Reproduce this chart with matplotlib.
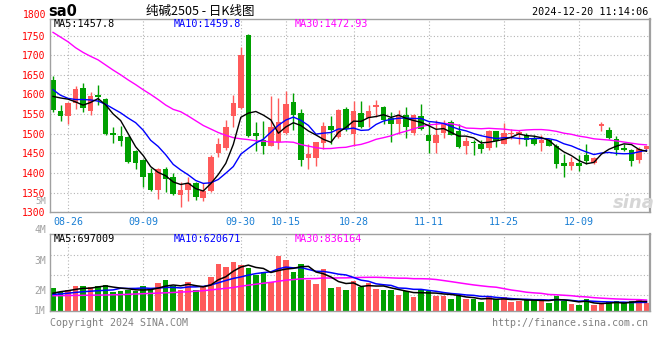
import numpy as np
import pandas as pd
import matplotlib
matplotlib.use("Agg")
import matplotlib.pyplot as plt

plt.rcParams['font.family'] = ['DejaVu Sans Mono']

# daily candles, SA2505, 2024-08-22 .. 2024-12-20
opens = [1638, 1558, 1545, 1578, 1616, 1558, 1599, 1589, 1501, 1495,
         1492, 1457, 1433, 1399, 1357, 1411, 1389, 1343, 1357, 1374,
         1337, 1354, 1451, 1464, 1545, 1565, 1752, 1503, 1484, 1470,
         1478, 1502, 1581, 1553, 1439, 1438, 1476, 1519, 1492, 1562,
         1499, 1553, 1541, 1567, 1568, 1541, 1524, 1547, 1502, 1544,
         1498, 1476, 1502, 1530, 1507, 1468, 1479, 1475, 1464, 1507,
         1475, 1499, 1499, 1498, 1490, 1476, 1483, 1468, 1425, 1417,
         1426, 1447, 1425, 1519, 1510, 1487, 1464, 1458, 1434, 1461]
highs = [1647, 1573, 1580, 1621, 1629, 1607, 1623, 1592, 1516, 1520,
         1494, 1459, 1435, 1412, 1413, 1415, 1401, 1377, 1391, 1376,
         1374, 1447, 1489, 1534, 1598, 1722, 1755, 1530, 1532, 1596,
         1592, 1610, 1604, 1564, 1475, 1480, 1530, 1545, 1564, 1568,
         1584, 1584, 1573, 1587, 1570, 1556, 1560, 1568, 1550, 1575,
         1530, 1536, 1536, 1536, 1524, 1492, 1483, 1483, 1510, 1508,
         1528, 1513, 1510, 1502, 1498, 1496, 1487, 1475, 1449, 1441,
         1447, 1473, 1440, 1530, 1516, 1493, 1473, 1460, 1465, 1470]
lows = [1555, 1533, 1524, 1562, 1555, 1548, 1572, 1497, 1476, 1470,
        1425, 1411, 1365, 1353, 1335, 1351, 1344, 1313, 1330, 1332,
        1328, 1352, 1442, 1458, 1517, 1562, 1492, 1455, 1449, 1468,
        1462, 1500, 1509, 1419, 1411, 1417, 1462, 1475, 1490, 1507,
        1470, 1514, 1517, 1543, 1526, 1479, 1499, 1490, 1498, 1509,
        1451, 1451, 1490, 1496, 1464, 1449, 1445, 1451, 1459, 1466,
        1473, 1487, 1475, 1470, 1472, 1456, 1468, 1413, 1391, 1408,
        1405, 1422, 1424, 1507, 1487, 1445, 1456, 1419, 1425, 1458]
closes = [1561, 1544, 1579, 1614, 1566, 1595, 1593, 1500, 1498, 1482,
          1428, 1426, 1389, 1356, 1409, 1385, 1347, 1357, 1374, 1338,
          1355, 1441, 1473, 1516, 1579, 1700, 1494, 1494, 1470, 1518,
          1530, 1575, 1547, 1434, 1449, 1479, 1519, 1510, 1560, 1513,
          1558, 1516, 1558, 1574, 1536, 1524, 1545, 1516, 1547, 1513,
          1482, 1498, 1526, 1498, 1466, 1481, 1476, 1462, 1507, 1482,
          1502, 1502, 1505, 1485, 1475, 1483, 1470, 1422, 1419, 1428,
          1419, 1430, 1439, 1524, 1490, 1459, 1459, 1430, 1461, 1468]
volumes = [1702000, 1384000, 1502000, 1850000, 1828000, 1776000, 1828000, 1902000, 1406000, 1458000,
           1532000, 1428000, 1828000, 1532000, 2050000, 2272000, 1828000, 1517000, 2124000, 1532000,
           1850000, 2472000, 3456000, 3241000, 3604000, 3367000, 3197000, 2605000, 2864000, 2109000,
           4070000, 3759000, 2871000, 3456000, 2257000, 1983000, 3093000, 1687000, 1761000, 1532000,
           2205000, 1761000, 2035000, 1591000, 1554000, 1502000, 1169000, 1443000, 1036000, 1502000,
           1421000, 1110000, 1110000, 873000, 1110000, 873000, 873000, 629000, 1021000, 836000,
           999000, 651000, 681000, 792000, 792000, 873000, 592000, 1051000, 703000, 481000,
           429000, 873000, 385000, 481000, 629000, 681000, 629000, 725000, 792000, 555000]

# moving averages before enough history is visible
ma5_head = [1595, 1591, 1588, 1581]
ma10_head = [1612, 1598, 1590, 1587, 1587, 1586, 1583, 1575, 1564]
ma30_head = [1758, 1746, 1734, 1719, 1707, 1697, 1688, 1675, 1662, 1650,
             1637, 1625, 1612, 1600, 1587, 1573, 1562, 1556, 1545, 1533,
             1521, 1512, 1503, 1496, 1490, 1487, 1485, 1482, 1481]
vma5_head = [1295000, 1406000, 1480000, 1576000]
vma10_head = [1206000, 1243000, 1295000, 1354000, 1406000, 1443000, 1480000, 1510000, 1539000]
vma30_head = [1110000, 1117000, 1125000, 1132000, 1140000, 1147000, 1154000, 1162000, 1177000, 1191000,
              1214000, 1236000, 1258000, 1280000, 1302000, 1325000, 1347000, 1376000, 1406000, 1443000,
              1480000, 1539000, 1598000, 1658000, 1717000, 1813000, 1887000, 1961000, 2035000]

tick_idx = [2, 12, 25, 31, 40, 50, 60, 70]
tick_labels = ['08-26', '09-09', '09-30', '10-15', '10-28', '11-11', '11-25', '12-09']


def moving(values, n, head):
    s = pd.Series(values, dtype=float).rolling(n).mean()
    s.iloc[:n - 1] = head
    return s.values


o = np.array(opens, float)
h = np.array(highs, float)
l = np.array(lows, float)
c = np.array(closes, float)
v = np.array(volumes, float)
x = np.arange(len(c))

up, down = '#ff5a5a', '#00a000'
cols = np.where(c >= o, up, down)
grid_c = '#b4b4b4'
frame_c = '#a0a0a0'

W, H = 660, 360
fig = plt.figure(figsize=(6.6, 3.6), dpi=100)


def rect(left, top, right, bottom):
    return [left / W, 1 - bottom / H, (right - left) / W, (bottom - top) / H]


def fpos(px, py):
    return px / W, 1 - py / H


ax = fig.add_axes(rect(50, 19, 649.5, 212.3))
axv = fig.add_axes(rect(50, 234.3, 649.5, 310.7))

# price panel
ax.vlines(x, l, h, colors=cols, lw=1, zorder=2)
ax.bar(x, np.maximum(np.abs(c - o), 1.5), bottom=np.minimum(o, c),
       width=0.74, color=cols, lw=0, zorder=2)
ax.plot(x, moving(closes, 30, ma30_head), color='#ff00ff', lw=1, zorder=3)
ax.plot(x, moving(closes, 10, ma10_head), color='#0000ff', lw=1, zorder=3)
ax.plot(x, moving(closes, 5, ma5_head), color='black', lw=1, zorder=3)

ax.set_xlim(-0.4, 79.4)
ax.set_ylim(1300, 1792)
ax.set_yticks(range(1300, 1751, 50))
ax.set_yticklabels([str(t) for t in range(1300, 1751, 50)], color='red', fontsize=7)
ax.set_xticks(tick_idx)
ax.set_xticklabels(tick_labels, color='#1a7fd4', fontsize=7.2)
ax.tick_params(length=0, axis='y', pad=3)
ax.tick_params(length=0, axis='x', pad=3.2)
ax.grid(True, color=grid_c, linestyle=(0, (1, 2)), lw=0.8)
ax.set_axisbelow(True)

# volume panel
axv.bar(x, v, width=0.74, color=cols, lw=0, zorder=2)
axv.plot(x, moving(volumes, 30, vma30_head), color='#ff00ff', lw=1.1, zorder=3)
axv.plot(x, moving(volumes, 10, vma10_head), color='#0000ff', lw=1.1, zorder=3)
axv.plot(x, moving(volumes, 5, vma5_head), color='black', lw=1.1, zorder=3)
axv.set_xlim(-0.4, 79.4)
axv.set_ylim(0, 5.654e6)
axv.set_yticks([1.14e6, 2.62e6, 4.10e6])
axv.set_yticklabels([])
axv.set_xticks(tick_idx)
axv.set_xticklabels([])
axv.tick_params(length=0)
axv.grid(True, color=grid_c, linestyle=(0, (1, 2)), lw=0.8)
axv.set_axisbelow(True)

for a in (ax, axv):
    for sp in a.spines.values():
        sp.set_color(frame_c)
        sp.set_linewidth(1)
    a.spines['right'].set_linewidth(1.6)

# texts
fig.text(*fpos(46, 15.3), '1800', color='red', fontsize=7, ha='right', va='center')
fig.text(*fpos(46, 202), '5M', color='#a0a0a0', fontsize=6.5, ha='right', va='center')
for lab, py in [('4M', 230.5), ('3M', 260.5), ('2M', 291.5), ('1M', 311)]:
    fig.text(*fpos(46, py), lab, color='#a0a0a0', fontsize=7, ha='right', va='center')

fig.text(*fpos(48, 12), 'sa0', fontsize=10.5, fontweight='bold', family='DejaVu Sans',
         va='center')
fig.text(*fpos(200, 11), '纯碱2505 - 日K线图', fontsize=9, ha='center', va='center',
         family=['Noto Sans CJK SC', 'DejaVu Sans'])
fig.text(*fpos(648, 12), '2024-12-20 11:14:06', fontsize=7.3, ha='right', va='center')

fig.text(*fpos(54, 24), 'MA5:1457.8', color='black', fontsize=7.3, va='center')
fig.text(*fpos(174, 24), 'MA10:1459.8', color='#0000ff', fontsize=7.3, va='center')
fig.text(*fpos(295, 24), 'MA30:1472.93', color='#ff00ff', fontsize=7.3, va='center')
fig.text(*fpos(54, 238.5), 'MA5:697009', color='black', fontsize=7.3, va='center')
fig.text(*fpos(174, 238.5), 'MA10:620671', color='#0000ff', fontsize=7.3, va='center')
fig.text(*fpos(295, 238.5), 'MA30:836164', color='#ff00ff', fontsize=7.3, va='center')

fig.text(*fpos(50, 323.5), 'Copyright 2024 SINA.COM', color='#808080', fontsize=7.2, va='center')
fig.text(*fpos(648, 323.5), 'http://finance.sina.com.cn', color='#808080', fontsize=7.2,
         ha='right', va='center')
fig.text(*fpos(634, 203), 'sina', color='#d6d6d6', fontsize=13, style='italic',
         fontweight='bold', family='DejaVu Sans', ha='center', va='center')

fig.savefig('out.png', dpi=100)
